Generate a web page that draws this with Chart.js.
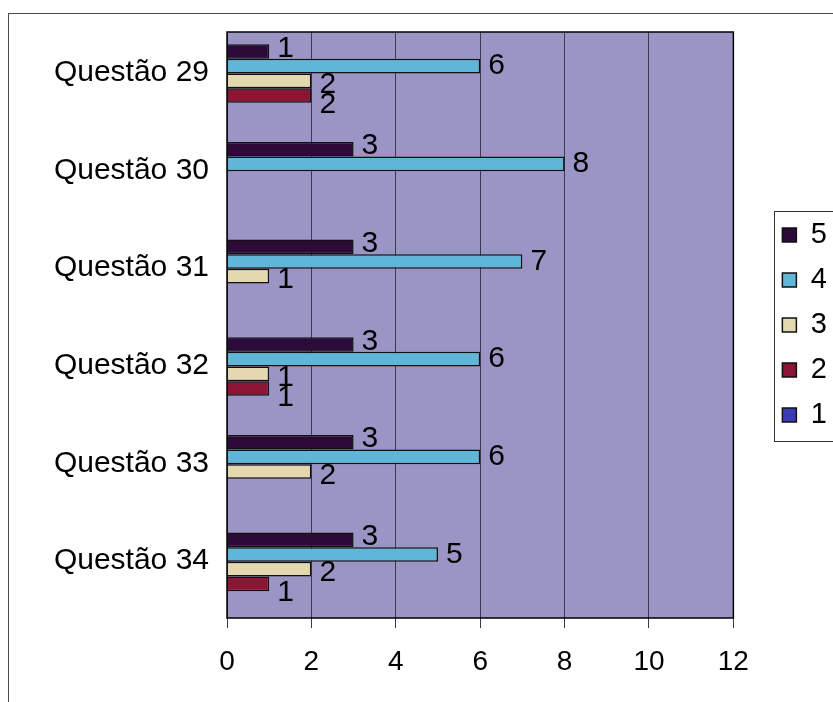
<!DOCTYPE html>
<html>
<head>
<meta charset="utf-8">
<script src="https://cdn.jsdelivr.net/npm/chart.js@4/dist/chart.umd.min.js"></script>
<style>
  html, body { margin: 0; padding: 0; background: #ffffff; overflow: hidden; }
  #wrap { position: relative; width: 833px; height: 702px; }
</style>
</head>
<body>
<div id="wrap"><canvas id="chart"></canvas></div>
<script>
// Answers per question, one array per score level
const categories = ['Questão 29', 'Questão 30', 'Questão 31', 'Questão 32', 'Questão 33', 'Questão 34'];
const score5 = [1, 3, 3, 3, 3, 3];
const score4 = [6, 8, 7, 6, 6, 5];
const score3 = [2, null, 1, 1, 2, 2];
const score2 = [2, null, null, 1, null, 1];
const score1 = [null, null, null, null, null, null];
const seriesNames = ['5', '4', '3', '2', '1'];
const axisMin = 0;
const axisMax = 12;
const axisStep = 2;

const FONT = 'Arial, "Liberation Sans", sans-serif';
const colors = ['#2c0b38', '#60b6d6', '#e4d9ae', '#8c1533', '#3b3bb5'];
// small vertical nudges of the value labels, per series
const labelShift = [-3, 0, 4, 9, 0];

// lavender fill behind the bars plus the outer frame of the chart
const plotBackground = {
  id: 'plotBackground',
  beforeDraw(chart) {
    const { ctx, chartArea: a } = chart;
    ctx.save();
    ctx.fillStyle = '#9a95c4';
    ctx.fillRect(a.left, a.top, a.right - a.left, a.bottom - a.top);
    ctx.strokeStyle = '#4a4a4a';
    ctx.lineWidth = 1;
    ctx.strokeRect(8.5, 13.5, 900, 800);
    ctx.restore();
  }
};

// numbers printed just past the end of each bar
const valueLabels = {
  id: 'valueLabels',
  afterDatasetsDraw(chart) {
    const { ctx } = chart;
    ctx.save();
    ctx.font = '30px ' + FONT;
    ctx.fillStyle = '#000';
    ctx.textAlign = 'left';
    ctx.textBaseline = 'middle';
    chart.data.datasets.forEach((ds, di) => {
      const meta = chart.getDatasetMeta(di);
      meta.data.forEach((bar, i) => {
        const v = ds.data[i];
        if (v === null || v === undefined) return;
        ctx.fillText(String(v), bar.x + 8, bar.y + labelShift[di]);
      });
    });
    ctx.restore();
  }
};

// black border around the plot area and the legend box
const frames = {
  id: 'frames',
  afterDraw(chart) {
    const { ctx, chartArea: a } = chart;
    ctx.save();
    ctx.strokeStyle = '#000';
    ctx.lineWidth = 1.5;
    ctx.strokeRect(a.left, a.top, a.right - a.left, a.bottom - a.top);
    const hb = chart.legend && chart.legend.legendHitBoxes;
    if (hb && hb.length) {
      const first = hb[0], last = hb[hb.length - 1];
      const top = first.top - 10;
      const bottom = last.top + last.height + 11;
      ctx.strokeStyle = '#333';
      ctx.lineWidth = 1;
      ctx.strokeRect(Math.round(first.left - 8) + 0.5, Math.round(top) + 0.5, 200, Math.round(bottom - top));
    }
    ctx.restore();
  }
};

const seriesValues = [score5, score4, score3, score2, score1];

new Chart(document.getElementById('chart'), {
  type: 'bar',
  data: {
    labels: categories,
    datasets: seriesValues.map((vals, i) => ({
      label: seriesNames[i],
      data: vals,
      yAxisID: 'y',
      backgroundColor: colors[i],
      borderColor: '#111',
      borderWidth: 1.5,
      categoryPercentage: 0.75,
      barPercentage: 1
    }))
  },
  options: {
    responsive: true,
    maintainAspectRatio: false,
    animation: false,
    indexAxis: 'y',
    layout: { padding: { top: 32, left: 0, right: -4, bottom: 0 } },
    plugins: {
      legend: {
        position: 'right',
        fullSize: false,
        labels: {
          font: { family: FONT, size: 29 },
          color: '#000',
          boxWidth: 14,
          boxHeight: 14,
          padding: 16
        }
      },
      tooltip: { enabled: false }
    },
    scales: {
      x: {
        min: axisMin,
        max: axisMax,
        ticks: { stepSize: axisStep, font: { family: FONT, size: 28 }, color: '#000', padding: 17 },
        grid: { color: '#3a3a4e', lineWidth: 1, tickLength: 10, drawTicks: true },
        border: { display: false },
        afterFit(s) { s.height = 84; }
      },
      y: {
        ticks: { font: { family: FONT, size: 30 }, color: '#000', padding: 10, labelOffset: -8 },
        grid: { display: false },
        border: { display: false },
        afterFit(s) { s.width = 227; }
      },
      gap: {
        type: 'linear',
        position: 'right',
        display: true,
        ticks: { display: false },
        grid: { display: false },
        border: { display: false },
        afterFit(s) { s.width = 33; }
      }
    }
  },
  plugins: [plotBackground, valueLabels, frames]
});
</script>
</body>
</html>
